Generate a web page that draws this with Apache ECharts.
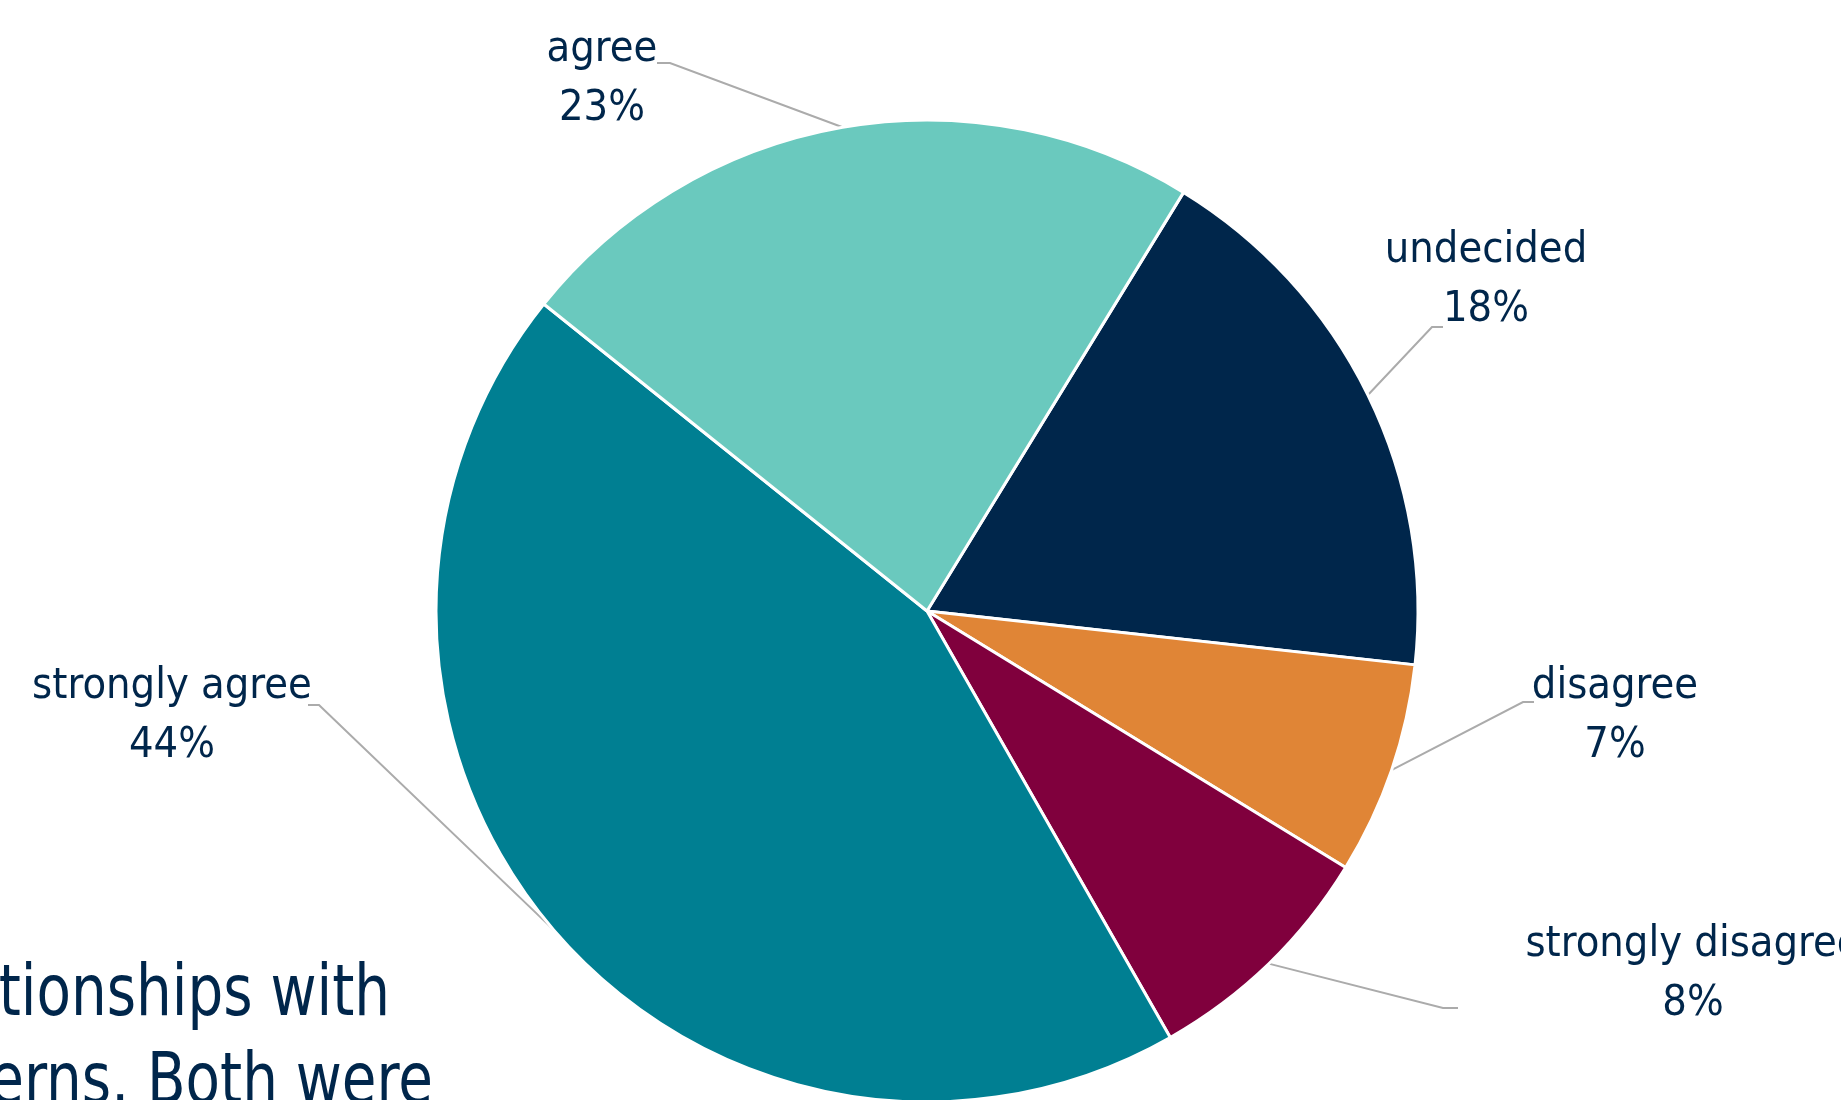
<!DOCTYPE html>
<html>
<head>
<meta charset="utf-8">
<script src="https://cdn.jsdelivr.net/npm/echarts@6/dist/echarts.min.js"></script>
<style>
html,body{margin:0;padding:0;background:#fff;}
#chart{width:1841px;height:1100px;}
</style>
</head>
<body>
<div id="chart"></div>
<script>
// ---- data ----
const categories = ['undecided', 'disagree', 'strongly disagree', 'strongly agree', 'agree'];
const values = [18, 7, 8, 44, 23];
const colors = ['#00264B', '#E08536', '#80003D', '#007F92', '#6AC9BE'];
const captionLines = ['tionships with', 'erns. Both were'];

// ---- label layout (pixel anchors for labels & leader lines) ----
const labelSpots = {
  'undecided':         { x: 1486, y: 280, elbow: [1432, 327], end: [1443, 327] },
  'disagree':          { x: 1615, y: 716, elbow: [1523, 702], end: [1534, 702] },
  'strongly disagree': { x: 1693, y: 974, elbow: [1443, 1008], end: [1458, 1008] },
  'strongly agree':    { x: 172,  y: 716, elbow: [319, 705],  end: [308, 705] },
  'agree':             { x: 602,  y: 79,  elbow: [670, 63],   end: [657, 63] }
};
const captionRight = [390, 433];

const FONT = "'Liberation Sans Narrow', 'DejaVu Sans Condensed', 'Noto Sans', sans-serif";
const TEXT = '#00264B';

const chart = echarts.init(document.getElementById('chart'), null, { renderer: 'canvas' });
chart.setOption({
  animation: false,
  backgroundColor: '#ffffff',
  graphic: captionLines.map((t, i) => ({
    type: 'text',
    x: captionRight[i],
    y: 996 + i * 88,
    scaleX: 0.87,
    style: {
      text: t,
      x: 0,
      y: 0,
      textAlign: 'right',
      textVerticalAlign: 'middle',
      fill: TEXT,
      font: "72px " + FONT
    },
    z: 0
  })),
  series: [{
    type: 'pie',
    center: [927, 611],
    radius: [0, 491],
    startAngle: 58.5,
    clockwise: true,
    avoidLabelOverlap: false,
    data: categories.map((c, i) => ({ name: c, value: values[i], itemStyle: { color: colors[i] } })),
    itemStyle: { borderColor: '#ffffff', borderWidth: 3 },
    label: {
      show: true,
      position: 'outside',
      formatter: p => p.name + '\n' + Math.round(p.percent) + '%',
      color: TEXT,
      fontFamily: FONT,
      fontSize: 43,
      lineHeight: 59,
      align: 'center'
    },
    labelLine: {
      show: true,
      length: 20,
      length2: 10,
      smooth: false,
      lineStyle: { color: '#ABABAB', width: 2 }
    },
    emphasis: { disabled: true },
    labelLayout: function (params) {
      const name = categories[params.dataIndex];
      const s = labelSpots[name];
      const start = params.labelLinePoints ? params.labelLinePoints[0] : s.elbow;
      return {
        x: s.x,
        y: s.y,
        align: 'center',
        verticalAlign: 'middle',
        labelLinePoints: [start, s.elbow, s.end]
      };
    }
  }]
});
</script>
</body>
</html>
